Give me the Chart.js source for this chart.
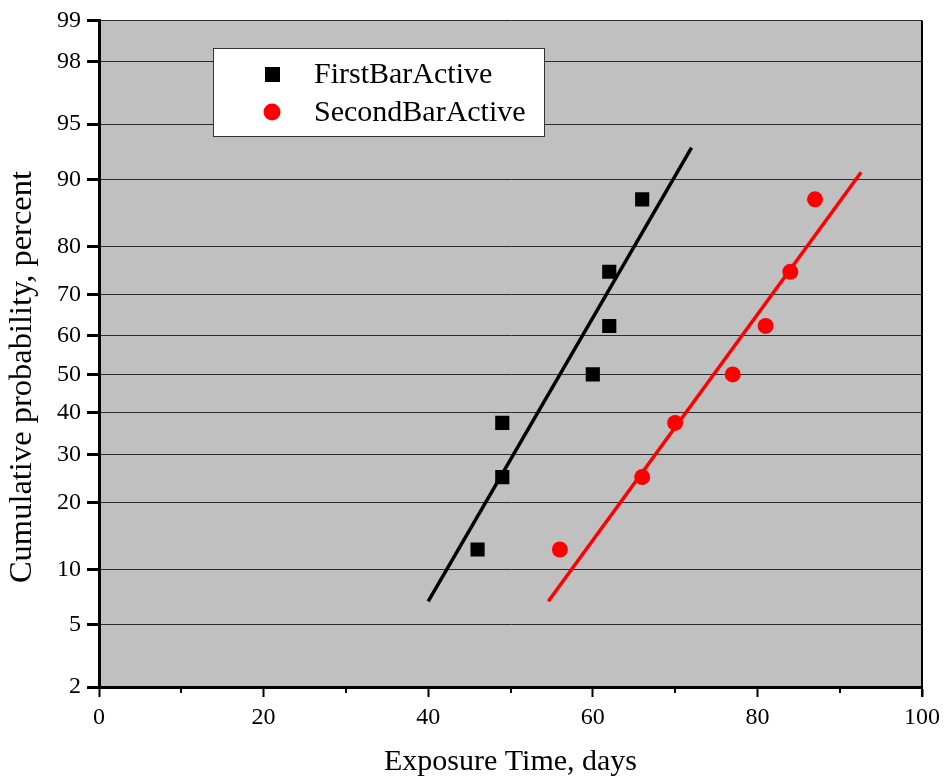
<!DOCTYPE html>
<html>
<head>
<meta charset="utf-8">
<script src="https://cdn.jsdelivr.net/npm/chart.js@4"></script>
<style>
  html, body { margin: 0; padding: 0; background: #fff; }
  #wrap { width: 946px; height: 782px; }
</style>
</head>
<body>
<div id="wrap"><canvas id="chart" width="946" height="782"></canvas></div>
<script>
// data
const firstDays = [46, 49, 49, 60, 62, 62, 66];
const firstProb = [12.5, 25, 37.5, 50, 62.5, 75, 87.5];
const secondDays = [56, 66, 70, 77, 81, 84, 87];
const secondProb = [12.5, 25, 37.5, 50, 62.5, 75, 87.5];

// fitted lines (end points)
const firstFitDays = [40, 72];
const firstFitProb = [6.8, 93.2];
const secondFitDays = [54.6, 92.6];
const secondFitProb = [6.8, 90.8];

const probTicks = [2, 5, 10, 20, 30, 40, 50, 60, 70, 80, 90, 95, 98, 99];
const xLabels = [0, 20, 40, 60, 80, 100];

const FONT = "'Liberation Serif', 'Times New Roman', serif";

// inverse normal cdf (Acklam)
function probit(p) {
  const a = [-3.969683028665376e1, 2.209460984245205e2, -2.759285104469687e2,
    1.38357751867269e2, -3.066479806614716e1, 2.506628277459239];
  const b = [-5.447609879822406e1, 1.615858368580409e2, -1.556989798598866e2,
    6.680131188771972e1, -1.328068155288572e1];
  const c = [-7.784894002430293e-3, -3.223964580411365e-1, -2.400758277161838,
    -2.549732539343734, 4.374664141464968, 2.938163982698783];
  const d = [7.784695709041462e-3, 3.224671290700398e-1, 2.445134137142996,
    3.754408661907416];
  const plow = 0.02425, phigh = 1 - plow;
  let q, r;
  if (p < plow) {
    q = Math.sqrt(-2 * Math.log(p));
    return (((((c[0]*q+c[1])*q+c[2])*q+c[3])*q+c[4])*q+c[5]) /
      ((((d[0]*q+d[1])*q+d[2])*q+d[3])*q+1);
  }
  if (p > phigh) {
    q = Math.sqrt(-2 * Math.log(1 - p));
    return -(((((c[0]*q+c[1])*q+c[2])*q+c[3])*q+c[4])*q+c[5]) /
      ((((d[0]*q+d[1])*q+d[2])*q+d[3])*q+1);
  }
  q = p - 0.5;
  r = q * q;
  return (((((a[0]*r+a[1])*r+a[2])*r+a[3])*r+a[4])*r+a[5])*q /
    (((((b[0]*r+b[1])*r+b[2])*r+b[3])*r+b[4])*r+1);
}

function toPoints(xs, ps) {
  return xs.map((x, i) => ({ x: x, y: probit(ps[i] / 100) }));
}

// grey plot area, right border, minor x ticks, y title, legend box
const plotDecor = {
  id: "plotDecor",
  beforeDraw(chart) {
    const { ctx, chartArea: a } = chart;
    ctx.save();
    ctx.fillStyle = "#c0c0c0";
    ctx.fillRect(a.left, a.top, a.right - a.left, a.bottom - a.top);
    ctx.restore();
  },
  afterDraw(chart) {
    const { ctx, chartArea: a } = chart;
    const xs = chart.scales.x;
    ctx.save();
    ctx.strokeStyle = "#000";
    ctx.lineWidth = 2;
    ctx.beginPath();
    ctx.moveTo(a.right, a.top);
    ctx.lineTo(a.right, a.bottom + 10);
    ctx.stroke();
    // minor ticks
    [10, 30, 50, 70, 90].forEach((v) => {
      const px = Math.round(xs.getPixelForValue(v));
      ctx.beginPath();
      ctx.moveTo(px, a.bottom);
      ctx.lineTo(px, a.bottom + 6);
      ctx.stroke();
    });

    // y title
    ctx.save();
    ctx.translate(22, 377);
    ctx.rotate(-Math.PI / 2);
    ctx.fillStyle = "#000";
    ctx.font = "32.5px " + FONT;
    ctx.textAlign = "center";
    ctx.textBaseline = "middle";
    ctx.fillText("Cumulative probability, percent", 0, 0);
    ctx.restore();

    // legend
    const bx = 213, by = 48, bw = 331, bh = 88;
    ctx.fillStyle = "#fff";
    ctx.fillRect(bx, by, bw, bh);
    ctx.strokeStyle = "#333";
    ctx.lineWidth = 1;
    ctx.strokeRect(bx + 0.5, by + 0.5, bw, bh);
    const rows = chart.data.datasets.filter((ds) => ds.inLegend);
    rows.forEach((ds, i) => {
      const cy = 74 + i * 38;
      ctx.fillStyle = ds.backgroundColor;
      if (ds.pointStyle === "rect") {
        ctx.fillRect(265, cy - 7, 15, 15);
      } else {
        ctx.beginPath();
        ctx.arc(272, cy, 8.5, 0, Math.PI * 2);
        ctx.fill();
      }
      ctx.fillStyle = "#000";
      ctx.font = "30px " + FONT;
      ctx.textBaseline = "middle";
      ctx.fillText(ds.label, 314, cy + 1);
    });
    ctx.restore();
  },
};

new Chart(document.getElementById("chart"), {
  type: "scatter",
  data: {
    datasets: [
      {
        label: "FirstBarActive",
        inLegend: true,
        data: toPoints(firstDays, firstProb),
        pointStyle: "rect",
        pointRadius: 10,
        backgroundColor: "#000",
        borderColor: "#000",
        borderWidth: 0,
      },
      {
        label: "SecondBarActive",
        inLegend: true,
        data: toPoints(secondDays, secondProb),
        pointStyle: "circle",
        pointRadius: 8,
        backgroundColor: "#ff0000",
        borderColor: "#ff0000",
        borderWidth: 0,
      },
      {
        label: "fit1",
        data: toPoints(firstFitDays, firstFitProb),
        showLine: true,
        pointRadius: 0,
        borderColor: "#000",
        borderWidth: 3.5,
      },
      {
        label: "fit2",
        data: toPoints(secondFitDays, secondFitProb),
        showLine: true,
        pointRadius: 0,
        borderColor: "#ff0000",
        borderWidth: 3.5,
      },
    ],
  },
  options: {
    responsive: false,
    animation: false,
    events: [],
    layout: { padding: { left: 0, top: 18, right: 22, bottom: 0 } },
    plugins: { legend: { display: false }, tooltip: { enabled: false } },
    scales: {
      x: {
        type: "linear",
        min: 0,
        max: 100,
        afterFit(scale) { scale.height = 95; },
        ticks: {
          stepSize: 10,
          color: "#000",
          padding: 6,
          font: { family: FONT, size: 24 },
          callback: (v) => (xLabels.includes(v) ? String(v) : ""),
          maxRotation: 0,
        },
        grid: {
          drawOnChartArea: false,
          tickLength: 10,
          tickWidth: 2,
          tickColor: (c) => (c.tick && c.tick.value % 20 === 0 ? "#000" : "rgba(0,0,0,0)"),
        },
        border: { color: "#000", width: 3 },
        title: {
          display: true,
          text: "Exposure Time, days",
          color: "#000",
          font: { family: FONT, size: 30 },
          padding: { top: 0, bottom: 2 },
        },
      },
      y: {
        type: "linear",
        min: probit(0.02),
        max: probit(0.99),
        afterFit(scale) { scale.width = 99; },
        afterBuildTicks(scale) {
          scale.ticks = probTicks.map((p) => ({ value: probit(p / 100) }));
        },
        ticks: {
          color: "#000",
          padding: 6,
          font: { family: FONT, size: 24 },
          callback: (v, i) => String(probTicks[i]),
        },
        grid: {
          color: "#2a2a2a",
          lineWidth: 1,
          tickLength: 12,
          tickColor: "#000",
          tickWidth: 3,
        },
        border: { color: "#000", width: 3 },
      },
    },
  },
  plugins: [plotDecor],
});
</script>
</body>
</html>
